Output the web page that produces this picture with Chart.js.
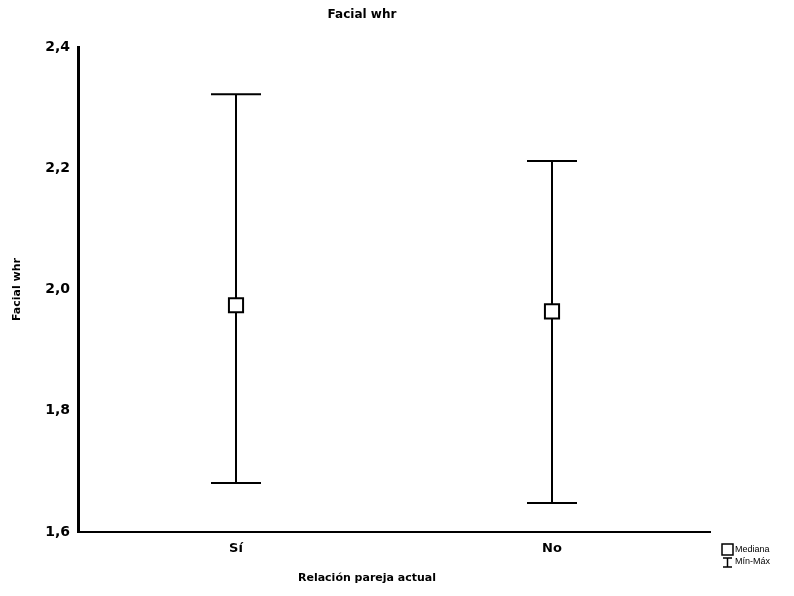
<!DOCTYPE html>
<html>
<head>
<meta charset="utf-8">
<script src="https://cdn.jsdelivr.net/npm/chart.js@4"></script>
<style>
  html, body { margin: 0; padding: 0; background: #fff; }
  #wrap { width: 794px; height: 596px; }
</style>
</head>
<body>
<div id="wrap"><canvas id="myChart"></canvas></div>
<script>
// - Facial whr por relacion

const grupos = ['Sí', 'No']
const medianas = [1.974, 1.964]
const minimos = [1.681, 1.648]
const maximos = [2.322, 2.212]
const yTicks = [1.6, 1.8, 2.0, 2.2, 2.4]

// whiskers (min-max) drawn under the median squares
const whiskers = {
  id: 'whiskers',
  beforeDatasetsDraw(chart) {
    const ctx = chart.ctx
    const x = chart.scales.x
    const y = chart.scales.y
    ctx.save()
    ctx.strokeStyle = '#000'
    ctx.lineWidth = 2
    grupos.forEach((g, i) => {
      const px = x.getPixelForValue(i)
      const top = y.getPixelForValue(maximos[i])
      const bot = y.getPixelForValue(minimos[i])
      ctx.beginPath()
      ctx.moveTo(px, top)
      ctx.lineTo(px, bot)
      ctx.moveTo(px - 25, top)
      ctx.lineTo(px + 25, top)
      ctx.moveTo(px - 25, bot)
      ctx.lineTo(px + 25, bot)
      ctx.stroke()
    })
    ctx.restore()
  },
  afterDraw(chart) {
    const ctx = chart.ctx
    ctx.save()
    // x axis title
    ctx.fillStyle = '#000'
    ctx.font = 'bold 11px "DejaVu Sans"'
    ctx.textAlign = 'center'
    ctx.textBaseline = 'middle'
    ctx.fillText('Relación pareja actual', 367, 578)

    // legend
    ctx.strokeStyle = '#000'
    ctx.lineWidth = 1.5
    ctx.fillStyle = '#fff'
    ctx.fillRect(722, 544, 11, 11)
    ctx.strokeRect(722, 544, 11, 11)
    ctx.beginPath()
    ctx.moveTo(723, 558)
    ctx.lineTo(732, 558)
    ctx.moveTo(727.5, 558)
    ctx.lineTo(727.5, 567)
    ctx.moveTo(723, 567)
    ctx.lineTo(732, 567)
    ctx.stroke()
    ctx.fillStyle = '#000'
    ctx.font = '9px "Liberation Sans Narrow", "Liberation Sans"'
    ctx.textAlign = 'left'
    ctx.fillText('Mediana', 735, 550)
    ctx.fillText('Mín-Máx', 735, 562)
    ctx.restore()
  }
}

const data = {
  labels: grupos,
  datasets: [{
    label: 'Mediana',
    data: medianas,
    showLine: false,
    pointStyle: 'rect',
    pointRadius: 10,
    pointHoverRadius: 10,
    pointBackgroundColor: '#fff',
    pointBorderColor: '#000',
    pointBorderWidth: 2
  }]
}

const config = {
  type: 'line',
  data: data,
  plugins: [whiskers],
  options: {
    responsive: true,
    maintainAspectRatio: false,
    animation: false,
    layout: {
      padding: { left: 14, right: 84, top: 0, bottom: 0 }
    },
    plugins: {
      legend: { display: false },
      tooltip: { enabled: false },
      title: {
        display: true,
        text: 'Facial whr',
        color: '#000',
        font: { family: 'DejaVu Sans', size: 12, weight: 'bold', lineHeight: 1.2 },
        padding: { top: 8, bottom: 24.6 }
      }
    },
    scales: {
      x: {
        offset: true,
        grid: { display: false, drawTicks: false },
        border: { color: '#000', width: 2 },
        ticks: {
          color: '#000',
          padding: 9,
          font: { family: 'DejaVu Sans', size: 13, weight: 'bold' }
        },
        afterFit(scale) { scale.height = 64 }
      },
      y: {
        min: 1.6,
        max: 2.4,
        grid: { display: false, drawTicks: false },
        border: { color: '#000', width: 3 },
        afterBuildTicks(scale) {
          scale.ticks = yTicks.map(v => ({ value: v }))
        },
        ticks: {
          color: '#000',
          padding: 8,
          font: { family: 'DejaVu Sans', size: 14, weight: 'bold' },
          callback: v => v.toFixed(1).replace('.', ',')
        },
        title: {
          display: true,
          text: 'Facial whr',
          color: '#000',
          font: { family: 'DejaVu Sans', size: 11, weight: 'bold', lineHeight: 0.6 },
          padding: { top: 0, bottom: 0 }
        },
        afterFit(scale) { scale.width = 64 }
      }
    }
  }
}

const myChart = new Chart(
  document.getElementById('myChart'),
  config
)
</script>
</body>
</html>
